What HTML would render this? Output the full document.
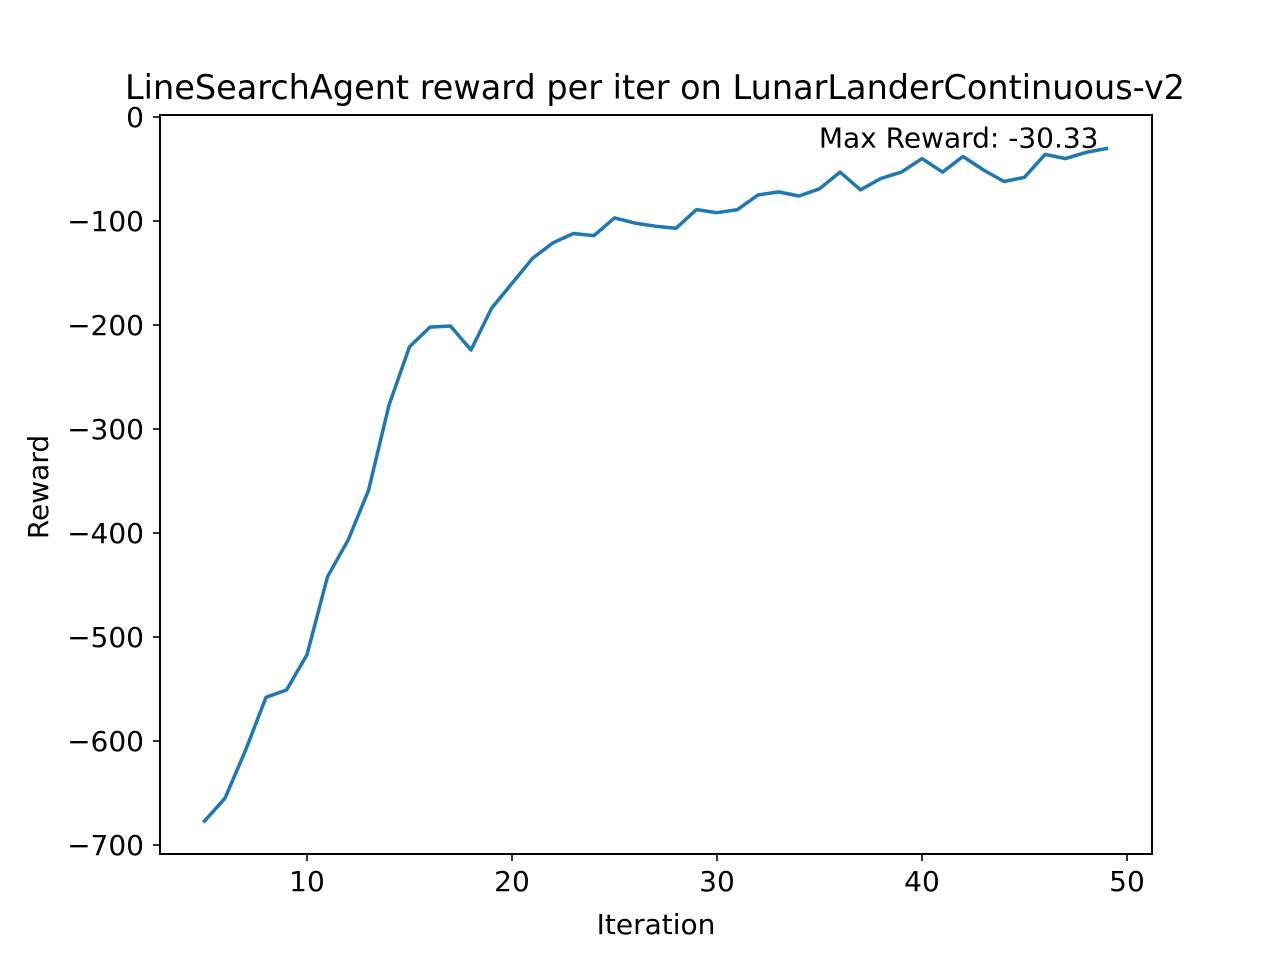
<!DOCTYPE html>
<html><head><meta charset="utf-8"><style>
html,body{margin:0;padding:0;background:#fff;}
svg text{font-family:"DejaVu Sans","Liberation Sans",sans-serif;fill:#000;}
</style></head><body>
<svg id="chart" width="1280" height="960">
<rect x="0" y="0" width="1280" height="960" fill="#fff"/>
<text x="655" y="99" font-size="33.5" text-anchor="middle">LineSearchAgent reward per iter on LunarLanderContinuous-v2</text>
<g id="xticks"></g>
<g id="yticks"></g>
<path id="line" fill="none" stroke="#1f77b4" stroke-width="3.5" stroke-linejoin="round" stroke-linecap="square"/>
<rect x="160" y="115" width="992" height="739" fill="none" stroke="#000" stroke-width="2"/>
<text id="ann" font-size="28" text-anchor="end"></text>
<text x="656" y="934" font-size="28" text-anchor="middle">Iteration</text>
<text x="0" y="0" font-size="28" text-anchor="middle" transform="translate(48,487) rotate(-90)">Reward</text>
</svg>
<script>
const iterations = [5,6,7,8,9,10,11,12,13,14,15,16,17,18,19,20,21,22,23,24,25,26,27,28,29,30,31,32,33,34,35,36,37,38,39,40,41,42,43,44,45,46,47,48,49];
const rewards = [-677,-655,-609,-558,-551,-517,-442,-407,-359,-277,-221,-202,-201,-224,-184,-160,-136,-121,-112,-114,-97,-102,-105,-107,-89,-92,-89,-75,-72,-76,-69,-53,-70,-59,-53,-40,-53,-38,-51,-62,-58,-36,-40,-34,-30.33];
const xTicks = [10,20,30,40,50];
const yTicks = [0,-100,-200,-300,-400,-500,-600,-700];
const NS="http://www.w3.org/2000/svg";
function xs(v){return 307+(v-10)*20.5;}
function ys(v){return 117-v*1.04;}
const xg=document.getElementById('xticks'), yg=document.getElementById('yticks');
xTicks.forEach(t=>{
  const l=document.createElementNS(NS,'line');
  l.setAttribute('x1',xs(t));l.setAttribute('x2',xs(t));l.setAttribute('y1',854);l.setAttribute('y2',861);
  l.setAttribute('stroke','#000');l.setAttribute('stroke-width','1.6');
  
  
  xg.appendChild(l);
  const tx=document.createElementNS(NS,'text');
  tx.setAttribute('x',xs(t));tx.setAttribute('y',891);tx.setAttribute('font-size','28');tx.setAttribute('text-anchor','middle');
  tx.textContent=t;
  
  
  xg.appendChild(tx);
});
yTicks.forEach(t=>{
  const l=document.createElementNS(NS,'line');
  l.setAttribute('x1',153);l.setAttribute('x2',160);l.setAttribute('y1',ys(t));l.setAttribute('y2',ys(t));
  l.setAttribute('stroke','#000');l.setAttribute('stroke-width','1.6');
  
  
  yg.appendChild(l);
  const tx=document.createElementNS(NS,'text');
  tx.setAttribute('x',144);tx.setAttribute('y',ys(t)+10);tx.setAttribute('font-size','28');tx.setAttribute('text-anchor','end');
  tx.textContent=t<0?'\u2212'+(-t):String(t);
  
  
  yg.appendChild(tx);
});
document.getElementById('line').setAttribute('d',iterations.map((x,i)=>(i?'L':'M')+xs(x).toFixed(1)+' '+ys(rewards[i]).toFixed(1)).join(' '));
const mx=Math.max(...rewards), mi=rewards.indexOf(mx);
const ann=document.getElementById('ann');
ann.setAttribute('x',xs(iterations[mi])-8);ann.setAttribute('y',ys(mx)-1);
ann.textContent='Max Reward: '+mx.toFixed(2);
</script>
</body></html>
